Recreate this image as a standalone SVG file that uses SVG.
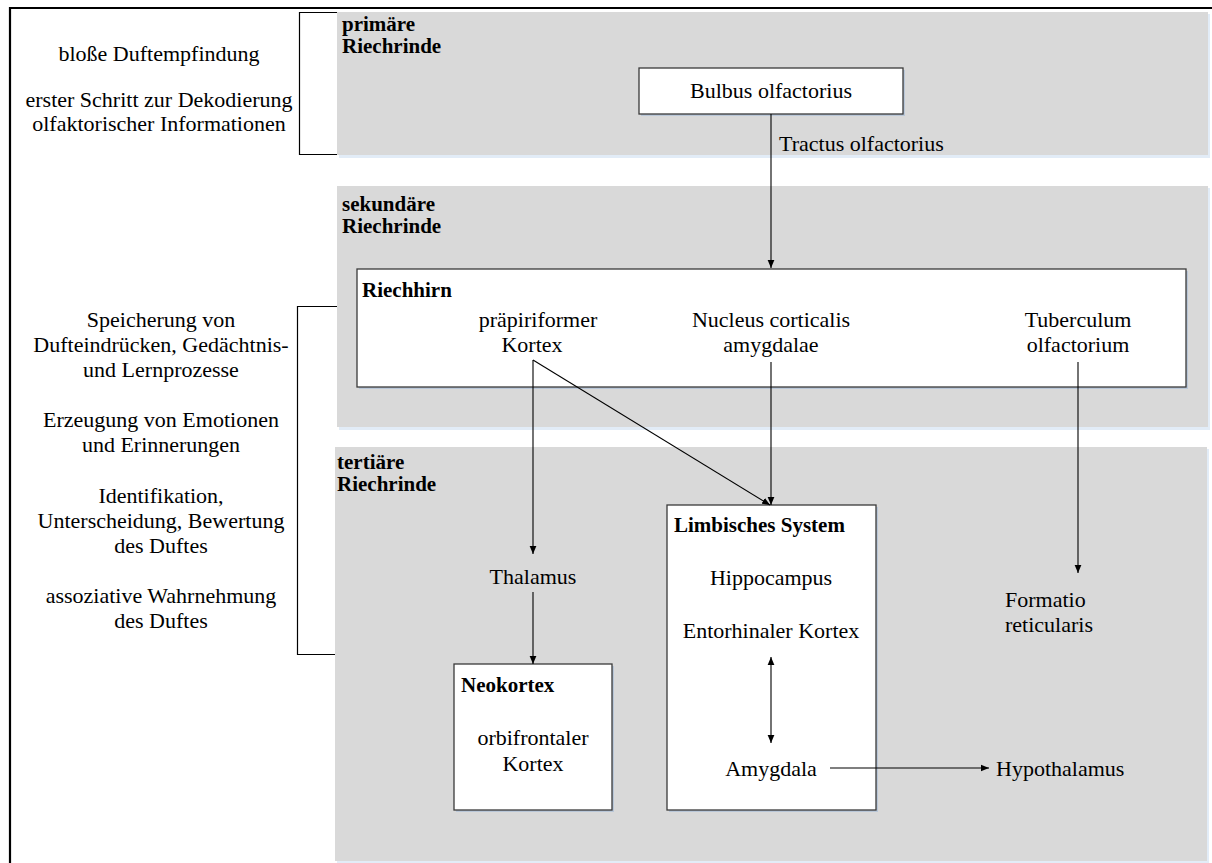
<svg xmlns="http://www.w3.org/2000/svg" width="1212" height="863" viewBox="0 0 1212 863">
<defs>
<style>
.band{fill:#d9d9d9}
.bsh{fill:#e2ecf7}
.box{fill:#fff;stroke:#3a3a3a;stroke-width:1.3}
.bxs{fill:#b9c7d8}
.t{font-family:"Liberation Serif","Times New Roman",Times,serif;font-size:22px;fill:#000}
.b{font-weight:bold;font-size:21px}
.c{text-anchor:middle}
.ln{stroke:#000;stroke-width:1.1;fill:none}
.br{stroke:#000;stroke-width:1.2;fill:none}
</style>
<marker id="ah" viewBox="0 0 10 10" refX="10" refY="5" markerWidth="8" markerHeight="8" markerUnits="userSpaceOnUse" orient="auto-start-reverse">
<path d="M0,0.8 L10,5 L0,9.2 z" fill="#000"/>
</marker>
</defs>
<rect width="1212" height="863" fill="#fff"/>
<path d="M10,870 V8 H1220" fill="none" stroke="#000" stroke-width="2.2"/>

<g id="brackets">
<path class="br" d="M337,12.5 H299.5 V154.5 H337"/>
<path class="br" d="M337,306.5 H297.5 V654.5 H335"/>
</g>

<g id="band1">
<rect class="bsh" x="339" y="14" width="871" height="144"/>
<rect class="band" x="337" y="12" width="871" height="143"/>
<text class="t b" x="342" y="31">primäre</text>
<text class="t b" x="342" y="53">Riechrinde</text>
</g>
<g id="band2">
<rect class="bsh" x="339" y="188" width="871" height="242"/>
<rect class="band" x="337" y="186" width="871" height="241"/>
<text class="t b" x="342" y="211">sekundäre</text>
<text class="t b" x="342" y="233">Riechrinde</text>
</g>
<g id="band3">
<rect class="bsh" x="337" y="449" width="872" height="416"/>
<rect class="band" x="335" y="447" width="872" height="414"/>
<text class="t b" x="337" y="469">tertiäre</text>
<text class="t b" x="337" y="491">Riechrinde</text>
</g>

<g id="left-notes">
<text class="t c" x="159" y="61">bloße Duftempfindung</text>
<text class="t c" x="159" y="107">erster Schritt zur Dekodierung</text>
<text class="t c" x="159" y="131">olfaktorischer Informationen</text>
<text class="t c" x="161" y="327">Speicherung von</text>
<text class="t c" x="161" y="352">Dufteindrücken, Gedächtnis-</text>
<text class="t c" x="161" y="377">und Lernprozesse</text>
<text class="t c" x="161" y="427">Erzeugung von Emotionen</text>
<text class="t c" x="161" y="452">und Erinnerungen</text>
<text class="t c" x="161" y="503">Identifikation,</text>
<text class="t c" x="161" y="528">Unterscheidung, Bewertung</text>
<text class="t c" x="161" y="553">des Duftes</text>
<text class="t c" x="161" y="603">assoziative Wahrnehmung</text>
<text class="t c" x="161" y="628">des Duftes</text>
</g>

<g id="bulbus">
<rect class="bxs" x="641" y="70" width="264" height="46"/>
<rect class="box" x="639" y="68" width="264" height="46"/>
<text class="t c" x="771" y="98">Bulbus olfactorius</text>
</g>

<g id="riechhirn">
<rect class="bxs" x="359" y="271" width="829" height="118"/>
<rect class="box" x="357" y="269" width="829" height="118"/>
<text class="t b" x="362" y="297">Riechhirn</text>
<text class="t c" x="538" y="327">präpiriformer</text>
<text class="t c" x="532" y="352">Kortex</text>
<text class="t c" x="771" y="327">Nucleus corticalis</text>
<text class="t c" x="771" y="352">amygdalae</text>
<text class="t c" x="1078" y="327">Tuberculum</text>
<text class="t c" x="1078" y="352">olfactorium</text>
</g>

<g id="limbic">
<rect class="bxs" x="669" y="507" width="209" height="305"/>
<rect class="box" x="667" y="505" width="209" height="305"/>
<text class="t b" x="674" y="532">Limbisches System</text>
<text class="t c" x="771" y="585">Hippocampus</text>
<text class="t c" x="771" y="638">Entorhinaler Kortex</text>
<text class="t c" x="771" y="776">Amygdala</text>
</g>

<g id="neokortex">
<rect class="bxs" x="456" y="666" width="158" height="146"/>
<rect class="box" x="454" y="664" width="158" height="146"/>
<text class="t b" x="461" y="692">Neokortex</text>
<text class="t c" x="533" y="745">orbifrontaler</text>
<text class="t c" x="533" y="771">Kortex</text>
</g>

<g id="thalamus"><text class="t c" x="533" y="584">Thalamus</text></g>
<g id="formatio">
<text class="t" x="1005" y="607">Formatio</text>
<text class="t" x="1005" y="632">reticularis</text>
</g>
<g id="hypothalamus"><text class="t" x="996" y="776">Hypothalamus</text></g>
<g id="tractus"><text class="t" x="779" y="151">Tractus olfactorius</text></g>

<g id="connectors">
<path class="ln" d="M771,114 V268" marker-end="url(#ah)"/>
<path class="ln" d="M533,360 V554" marker-end="url(#ah)"/>
<path class="ln" d="M533,360 L770,505" marker-end="url(#ah)"/>
<path class="ln" d="M771,362 V505" marker-end="url(#ah)"/>
<path class="ln" d="M1078,362 V573" marker-end="url(#ah)"/>
<path class="ln" d="M533,592 V664" marker-end="url(#ah)"/>
<path class="ln" d="M771,657 V743" marker-start="url(#ah)" marker-end="url(#ah)"/>
<path class="ln" d="M830,768 H989" marker-end="url(#ah)"/>
</g>
</svg>
